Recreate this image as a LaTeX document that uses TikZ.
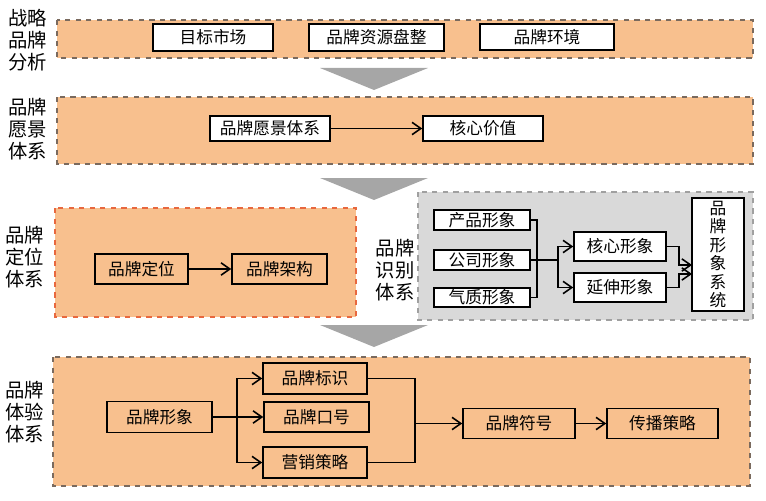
\documentclass[tikz,border=0pt]{standalone}
\usepackage{fontspec}
\usepackage{tikz}
\usepackage{xcolor}
\usetikzlibrary{arrows.meta}
\newfontfamily\cjk{Noto Sans CJK SC}
\definecolor{peach}{HTML}{F8C08E}
\definecolor{panelline}{HTML}{7A6A5E}
\definecolor{redline}{HTML}{E8683E}
\definecolor{graypanel}{HTML}{D9D9D9}
\definecolor{grayline}{HTML}{A0A0A0}
\definecolor{chevgray}{HTML}{A6A6A6}

\begin{document}
\begin{tikzpicture}[x=0.02cm,y=-0.02cm,
    panel/.style={fill=peach, draw=panelline, dashed, line width=0.8pt},
    box/.style={draw, line width=0.9pt, inner sep=0pt, font=\cjk\fontsize{9.5}{10}\selectfont},
    wbox/.style={box, fill=white},
    lab/.style={align=center, inner sep=0pt, font=\cjk\fontsize{11}{12.6}\selectfont},
    line/.style={line width=0.9pt},
    arr/.style={line, -{Straight Barb[length=5pt,width=7pt]}}]
    \useasboundingbox (0,0) rectangle (766,500);

    %panels
    \draw[panel] (57,20) rectangle (753,58);
    \draw[panel] (57,97) rectangle (753,164);
    \draw[panel, draw=redline] (55,208) rectangle (356,317);
    \draw[fill=graypanel, draw=grayline, dashed, line width=0.8pt] (418,192) rectangle (753,320);
    \draw[panel] (53,357) rectangle (750,486);

    %chevrons
    \fill[chevgray] (320,68) -- (428,68) -- (374,90) -- cycle;
    \fill[chevgray] (320,178) -- (428,178) -- (374,200) -- cycle;
    \fill[chevgray] (320,325) -- (428,325) -- (374,347) -- cycle;

    %side labels
    \node[lab] (lab1) at (28,40) {战略\\品牌\\分析};
    \node[lab] (lab2) at (28,129) {品牌\\愿景\\体系};
    \node[lab] (lab3) at (25,257) {品牌\\定位\\体系};
    \node[lab] (lab4) at (395,270) {品牌\\识别\\体系};
    \node[lab] (lab5) at (25,412) {品牌\\体验\\体系};

    % analysis
    \node[wbox, minimum width=2.4cm, minimum height=0.54cm] (target) at (213,37.5) {目标市场};
    \node[wbox, minimum width=2.7cm, minimum height=0.54cm] (resource) at (376.5,37.5) {品牌资源盘整};
    \node[wbox, minimum width=2.68cm, minimum height=0.52cm] (environ) at (547,37) {品牌环境};

    % vision
    \node[wbox, minimum width=2.4cm, minimum height=0.5cm] (vision) at (270,128.5) {品牌愿景体系};
    \node[wbox, minimum width=2.4cm, minimum height=0.5cm] (core) at (483,128.5) {核心价值};
    \draw[arr] (vision) -- (core);

    % positioning
    \node[box, minimum width=1.86cm, minimum height=0.6cm] (position) at (141.5,269) {品牌定位};
    \node[box, minimum width=1.9cm, minimum height=0.6cm] (architect) at (279.5,269) {品牌架构};
    \draw[arr] (position) -- (architect);

    % identity
    \node[wbox, minimum width=1.92cm, minimum height=0.4cm] (product) at (482,220) {产品形象};
    \node[wbox, minimum width=1.92cm, minimum height=0.4cm] (company) at (482,260) {公司形象};
    \node[wbox, minimum width=1.92cm, minimum height=0.38cm] (temper) at (482,297.5) {气质形象};
    \node[wbox, minimum width=1.84cm, minimum height=0.58cm] (coreimg) at (620,246.5) {核心形象};
    \node[wbox, minimum width=1.84cm, minimum height=0.58cm] (extimg) at (620,287.5) {延伸形象};
    \node[wbox, minimum width=1.04cm, minimum height=2.26cm, align=center,
        font=\cjk\fontsize{9.5}{10.5}\selectfont] (system) at (718,254.5) {品\\牌\\形\\象\\系\\统};
    \coordinate (jl) at (537,260);
    \coordinate (jm) at (558,260);
    \coordinate (sysa) at (692,265);
    \coordinate (sysb) at (692,274);
    \draw[line] (product.east) -| (jl) |- (temper.east);
    \draw[line] (company.east) -- (jl);
    \draw[arr] (jl) -- (jm) |- (coreimg.west);
    \draw[arr] (jm) |- (extimg.west);
    \draw[arr] (coreimg.east) -- ++(12,0) |- (sysa);
    \draw[arr] (extimg.east) -- ++(12,0) |- (sysb);

    % experience
    \node[box, minimum width=2.1cm, minimum height=0.62cm] (brandimg) at (159.5,417) {品牌形象};
    \node[box, minimum width=2.08cm, minimum height=0.62cm] (logo) at (315,378.5) {品牌标识};
    \node[box, minimum width=2.1cm, minimum height=0.6cm] (slogan) at (316.5,417) {品牌口号};
    \node[box, minimum width=2.08cm, minimum height=0.62cm] (market) at (315,462.5) {营销策略};
    \node[box, minimum width=2.24cm, minimum height=0.6cm] (symbol) at (519,423.5) {品牌符号};
    \node[box, minimum width=2.22cm, minimum height=0.6cm] (spread) at (662.5,423.5) {传播策略};
    \coordinate (jb) at (237,417);
    \coordinate (jc) at (415,423.5);
    \draw[arr] (brandimg) -- (slogan);
    \draw[arr] (jb) |- (logo.west);
    \draw[arr] (jb) |- (market.west);
    \draw[line] (logo.east) -| (jc) |- (market.east);
    \draw[arr] (jc) -- (symbol);
    \draw[arr] (symbol) -- (spread);
\end{tikzpicture}
\end{document}
